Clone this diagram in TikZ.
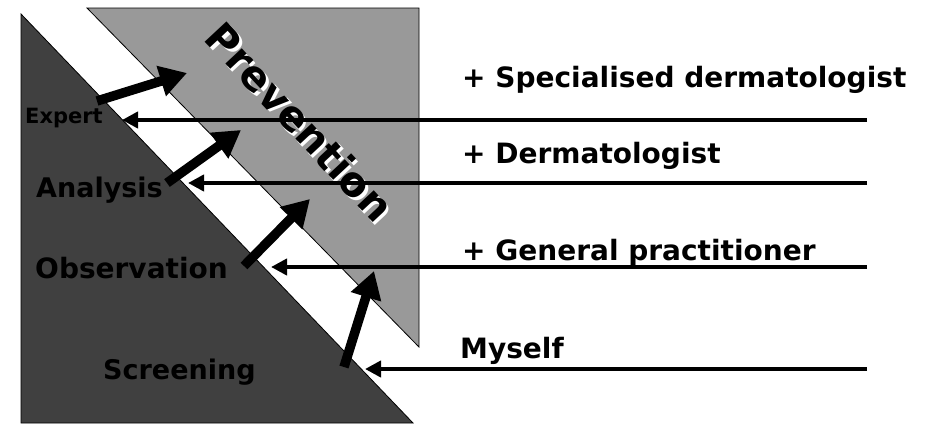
\documentclass[tikz,border=0pt]{standalone}
\usepackage{fontspec}
\setmainfont{DejaVu Sans}
\usetikzlibrary{arrows.meta}
\definecolor{darkfill}{gray}{0.25}
\definecolor{lightfill}{gray}{0.6}
\tikzset{
  lbl/.style={anchor=base west, inner sep=0pt, font=\bfseries\fontsize{#1}{#1}\selectfont},
  prevstyle/.style={rotate=-47, inner sep=0pt, font=\bfseries\fontsize{41}{41}\selectfont},
  bigarrow/.style={line width=9.5pt, -{Triangle[length=27pt,width=30pt]}},
  thinarrow/.style={line width=4.5pt, -{Triangle[length=16pt,width=16pt]}},
}
\begin{document}
\begin{tikzpicture}[x=1pt,y=-1pt]
\useasboundingbox (0,0) rectangle (928,423);
% shapes
\fill[lightfill, draw=black, line width=0.8pt] (87,8) -- (419,8) -- (419,347) -- cycle;
\fill[darkfill, draw=black, line width=0.8pt] (21,14) -- (413,423) -- (21,423) -- cycle;
% Prevention with white shadow
\node[prevstyle, white] (prevshadow) at (302.5,124.5) {Prevention};
\node[prevstyle, black] (prev) at (300,122) {Prevention};
% left labels
\node[lbl=21] (expert) at (25,123) {Expert};
\node[lbl=27] (analysis) at (36,197) {Analysis};
\node[lbl=28] (observation) at (35,278) {Observation};
\node[lbl=27] (screening) at (103,379) {Screening};
% right labels
\node[lbl=28] (specd) at (462,87) {+ Specialised dermatologist};
\node[lbl=28] (derm) at (462,163) {+ Dermatologist};
\node[lbl=28] (gp) at (462,260) {+ General practitioner};
\node[lbl=28] (myself) at (460,358) {Myself};
% coordinates
\coordinate (r1) at (867,120); \coordinate (t1) at (122,120);
\coordinate (r2) at (867,183); \coordinate (t2) at (188,183);
\coordinate (r3) at (867,267); \coordinate (t3) at (271,267);
\coordinate (r4) at (867,369); \coordinate (t4) at (365,369);
\coordinate (s1) at (97,101);  \coordinate (u1) at (187,73);
\coordinate (s2) at (167,183); \coordinate (u2) at (241,130);
\coordinate (s3) at (244,266); \coordinate (u3) at (310,199);
\coordinate (s4) at (344,367); \coordinate (u4) at (374,271);
% horizontal arrows
\draw[thinarrow] (r1) -- (t1);
\draw[thinarrow] (r2) -- (t2);
\draw[thinarrow] (r3) -- (t3);
\draw[thinarrow] (r4) -- (t4);
% thick arrows
\draw[bigarrow] (s1) -- (u1);
\draw[bigarrow] (s2) -- (u2);
\draw[bigarrow] (s3) -- (u3);
\draw[bigarrow] (s4) -- (u4);
\end{tikzpicture}
\end{document}
